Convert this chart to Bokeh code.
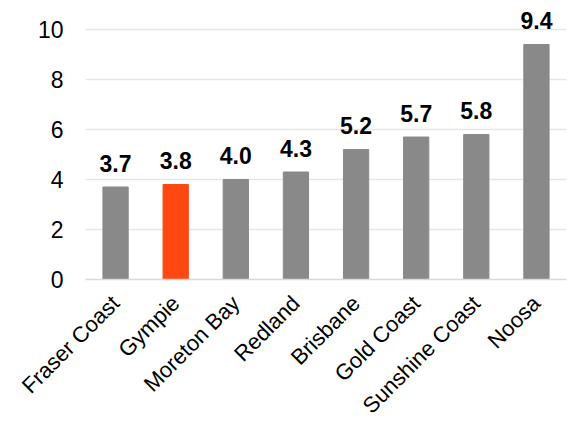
from bokeh.plotting import figure
from bokeh.models import ColumnDataSource, Range1d, FixedTicker
from bokeh.core.properties import value
from bokeh.embed import file_html
from bokeh.resources import INLINE
import math

categories = ["Fraser Coast", "Gympie", "Moreton Bay", "Redland", "Brisbane",
              "Gold Coast", "Sunshine Coast", "Noosa"]
values = [3.7, 3.8, 4.0, 4.3, 5.2, 5.7, 5.8, 9.4]
highlight = "Gympie"
y_ticks = [0, 2, 4, 6, 8, 10]

colors = ["#FF4712" if c == highlight else "#898989" for c in categories]
labels = [f"{v:.1f}" for v in values]
src = ColumnDataSource(dict(x=categories, top=values, color=colors, label=labels))

p = figure(x_range=categories, y_range=Range1d(0, 11.16),
           frame_width=481, frame_height=279,
           output_backend="svg", toolbar_location=None,
           min_border_left=85, min_border_right=4, min_border_top=0, min_border_bottom=0)
p.outline_line_color = None
p.background_fill_color = "white"
p.border_fill_color = "white"

p.vbar(x="x", top="top", width=0.42, color="color", source=src)
p.text(x="x", y="top", text="label", source=src, text_align="center",
       text_baseline="alphabetic", y_offset=-24,
       text_font=value("Liberation Sans"), text_font_style="bold",
       text_font_size="23px", text_color="#000000")

p.yaxis.ticker = FixedTicker(ticks=y_ticks)
p.yaxis.axis_line_color = None
p.yaxis.major_tick_line_color = None
p.yaxis.major_tick_out = 0
p.yaxis.major_tick_in = 0
p.yaxis.minor_tick_line_color = None
p.yaxis.major_label_standoff = 22
p.yaxis.major_label_text_font = "Liberation Sans"
p.yaxis.major_label_text_font_size = "23px"
p.yaxis.major_label_text_color = "#000000"

p.xaxis.axis_line_color = "#d9d9d9"
p.xaxis.axis_line_width = 1.5
p.xaxis.major_tick_line_color = None
p.xaxis.major_tick_out = 0
p.xaxis.major_tick_in = 0
p.xaxis.minor_tick_line_color = None
p.xaxis.major_label_orientation = math.pi / 4
p.xaxis.major_label_standoff = 20
p.xaxis.major_label_text_font = "Liberation Sans"
p.xaxis.major_label_text_font_size = "22px"
p.xaxis.major_label_text_color = "#000000"

p.xgrid.grid_line_color = None
p.ygrid.grid_line_color = "#e6e6e6"
p.ygrid.grid_line_width = 1.5
p.ygrid.ticker = FixedTicker(ticks=y_ticks)

open("out.html", "w").write(file_html(p, INLINE))
